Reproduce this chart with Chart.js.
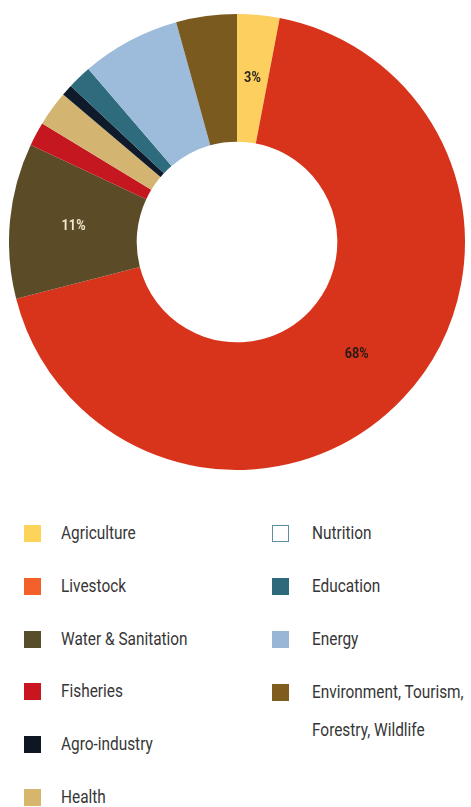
<!DOCTYPE html>
<html>
<head>
<meta charset="utf-8">
<script src="https://cdn.jsdelivr.net/npm/chart.js@4/dist/chart.umd.min.js"></script>
<style>
  html, body { margin: 0; padding: 0; background: #fff; }
  body { width: 471px; height: 807px; position: relative; overflow: hidden; font-family: Roboto, sans-serif; }
  #chartBox { position: absolute; left: 9px; top: 14px; width: 456px; height: 456px; }
  .legend-item { position: absolute; color: #363636; font-size: 18px; line-height: 38px; }
  .legend-item .sw { width: 17px; height: 17px; margin-top: -8px; position: absolute; left: 0; top: 0; box-sizing: border-box; }
  .legend-item .txt { position: absolute; top: -19px; white-space: nowrap;
                      transform: scaleX(0.855); transform-origin: 0 0; }
</style>
</head>
<body>
<div id="chartBox"><canvas id="donut"></canvas></div>
<div id="legend"></div>
<script>
// categories in clockwise drawing order, starting at 12 o'clock
const categories = ["Agriculture", "Livestock", "Water & Sanitation", "Fisheries", "Health",
  "Agro-industry", "Nutrition", "Education", "Energy", "Environment, Tourism, Forestry, Wildlife"];
const shares = [3, 68, 11, 1.7, 2.5, 0.8, 0, 1.7, 7, 4.3];
const shownLabels = ["3%", "68%", "11%", "", "", "", "", "", "", ""];

const sliceColors = ["#fdcf5e", "#d8341c", "#5b4b27", "#c4171f", "#d3b571",
  "#0f1a2a", "#ffffff", "#2d6b7d", "#9dbbdb", "#7b5a1f"];
const legendColors = ["#fdd35a", "#f4602a", "#574d2a", "#c8151f", "#d6b66c",
  "#0e1624", "#ffffff", "#2c6a7b", "#9ab6d6", "#7e5d1f"];
const labelColors = ["#2b2520", "#2a1a14", "#eee6cf"];

// legend: two columns, listed top to bottom
const legendLeft = ["Agriculture", "Livestock", "Water & Sanitation", "Fisheries", "Agro-industry", "Health"];
const legendRight = ["Nutrition", "Education", "Energy", "Environment, Tourism, Forestry, Wildlife"];

// percent text on the big slices, squeezed a bit to look condensed
const sliceLabels = {
  id: "sliceLabels",
  afterDatasetsDraw(chart) {
    const { ctx } = chart;
    const meta = chart.getDatasetMeta(0);
    meta.data.forEach((arc, i) => {
      if (!shownLabels[i]) return;
      const p = arc.tooltipPosition();
      ctx.save();
      ctx.translate(p.x, p.y);
      ctx.scale(0.85, 1);
      ctx.font = "bold 15px Roboto, sans-serif";
      ctx.textAlign = "center";
      ctx.textBaseline = "middle";
      ctx.fillStyle = labelColors[i] || "#222";
      ctx.fillText(shownLabels[i], 0, 0);
      ctx.restore();
    });
  }
};

new Chart(document.getElementById("donut"), {
  type: "doughnut",
  data: {
    labels: categories,
    datasets: [{ data: shares, backgroundColor: sliceColors, borderWidth: 0 }]
  },
  options: {
    responsive: true,
    maintainAspectRatio: false,
    animation: false,
    cutout: "44%",
    layout: { padding: 0 },
    plugins: { legend: { display: false }, tooltip: { enabled: false } }
  },
  plugins: [sliceLabels]
});

// === HTML legend ===
const legendEl = document.getElementById("legend");
function addItem(name, x, y, textGap) {
  const i = categories.indexOf(name);
  const item = document.createElement("div");
  item.className = "legend-item";
  item.style.left = x + "px";
  item.style.top = y + "px";
  const sw = document.createElement("div");
  sw.className = "sw";
  sw.style.background = legendColors[i];
  if (name === "Nutrition") sw.style.border = "1.5px solid #5d8ea3";
  const txt = document.createElement("div");
  txt.className = "txt";
  txt.style.left = textGap + "px";
  if (name.startsWith("Environment")) {
    txt.innerHTML = "Environment, Tourism,<br>Forestry, Wildlife";
  } else {
    txt.textContent = name;
  }
  item.appendChild(sw);
  item.appendChild(txt);
  legendEl.appendChild(item);
}
legendLeft.forEach((n, k) => addItem(n, 24, 533 + k * 52.8, 37));
legendRight.forEach((n, k) => addItem(n, 272, 533 + k * 53, 40));
</script>
</body>
</html>
